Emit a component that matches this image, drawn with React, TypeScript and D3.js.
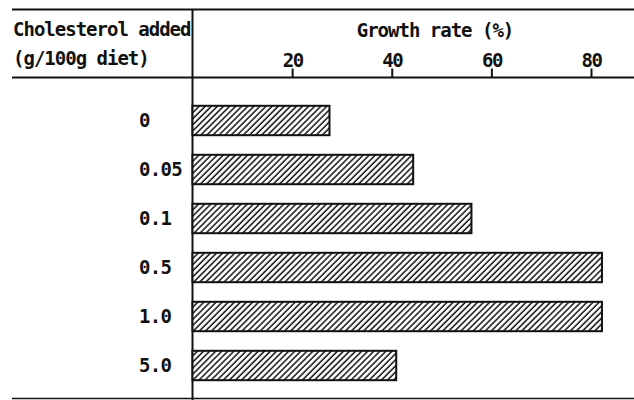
import React, { useEffect, useRef } from 'react';
import * as d3 from 'd3';

const doses = ['0', '0.05', '0.1', '0.5', '1.0', '5.0'];
const growth = [27.5, 44.3, 56, 82.2, 82.2, 40.9];
const tickValues = [20, 40, 60, 80];

const W = 634;
const H = 400;
const FONT = '"DejaVu Sans Mono", "Liberation Mono", monospace';

const App: React.FC = () => {
  const svgRef = useRef<SVGSVGElement>(null);

  useEffect(() => {
    const svg = d3.select(svgRef.current);
    svg.selectAll('*').remove();

    const x = d3.scaleLinear().domain([0, 80]).range([192.5, 591]);
    const y = d3
      .scaleBand<string>()
      .domain(doses)
      .range([96, 390])
      .paddingInner(0.4)
      .paddingOuter(0.2);

    // hatch pattern
    const defs = svg.append('defs');
    const pat = defs
      .append('pattern')
      .attr('id', 'hatch')
      .attr('patternUnits', 'userSpaceOnUse')
      .attr('width', 4.3)
      .attr('height', 10)
      .attr('patternTransform', 'rotate(45)');
    pat.append('rect').attr('width', 4.3).attr('height', 10).attr('fill', '#fff');
    pat
      .append('line')
      .attr('x1', 1)
      .attr('x2', 1)
      .attr('y1', 0)
      .attr('y2', 10)
      .attr('stroke', '#111')
      .attr('stroke-width', 1.5);

    // table rules
    const rules = svg.append('g').attr('stroke', '#111');
    rules.append('line').attr('x1', 12).attr('x2', W).attr('y1', 9.5).attr('y2', 9.5).attr('stroke-width', 2);
    rules.append('line').attr('x1', 12).attr('x2', W).attr('y1', 77.5).attr('y2', 77.5).attr('stroke-width', 2);
    rules.append('line').attr('x1', 12).attr('x2', W).attr('y1', 398.5).attr('y2', 398.5).attr('stroke-width', 1.5);
    rules.append('line').attr('x1', 192.5).attr('x2', 192.5).attr('y1', 9).attr('y2', H).attr('stroke-width', 2);

    // header texts
    const txt = svg
      .append('g')
      .attr('font-family', FONT)
      .attr('font-size', 19)
      .attr('font-weight', 'bold')
      .attr('letter-spacing', -1)
      .attr('fill', '#111');
    txt.append('text').attr('x', 13).attr('y', 36).text('Cholesterol added');
    txt.append('text').attr('x', 13).attr('y', 65).text('(g/100g diet)');
    txt.append('text').attr('x', 435).attr('y', 37).attr('text-anchor', 'middle').text('Growth rate (%)');

    // top axis with ticks
    const axis = d3.axisTop(x).tickValues(tickValues).tickSize(9).tickPadding(2).tickFormat(d3.format('d'));
    const ag = svg.append('g').attr('transform', 'translate(0,77.5)').call(axis);
    ag.select('.domain').remove();
    ag.selectAll('line').attr('stroke', '#111').attr('stroke-width', 2);
    ag.selectAll('text')
      .attr('font-family', FONT)
      .attr('font-size', 19)
      .attr('font-weight', 'bold')
      .attr('letter-spacing', -1.5)
      .attr('fill', '#111')
      .attr('dy', 0);

    // dose labels
    svg
      .append('g')
      .selectAll('text')
      .data(doses)
      .join('text')
      .attr('x', 139)
      .attr('y', (d) => (y(d) as number) + y.bandwidth() / 2)
      .attr('dy', '0.36em')
      .attr('font-family', FONT)
      .attr('font-size', 19)
      .attr('font-weight', 'bold')
      .attr('letter-spacing', -0.7)
      .attr('fill', '#111')
      .text((d) => d);

    // bars
    svg
      .append('g')
      .selectAll('rect')
      .data(growth)
      .join('rect')
      .attr('x', x(0))
      .attr('y', (_, i) => y(doses[i]) as number)
      .attr('width', (d) => x(d) - x(0))
      .attr('height', y.bandwidth())
      .attr('fill', 'url(#hatch)')
      .attr('stroke', '#111')
      .attr('stroke-width', 2);
  }, []);

  return (
    <svg
      ref={svgRef}
      width={W}
      height={H}
      style={{ position: 'absolute', left: 0, top: 0, background: '#fff' }}
    />
  );
};

export default App;
